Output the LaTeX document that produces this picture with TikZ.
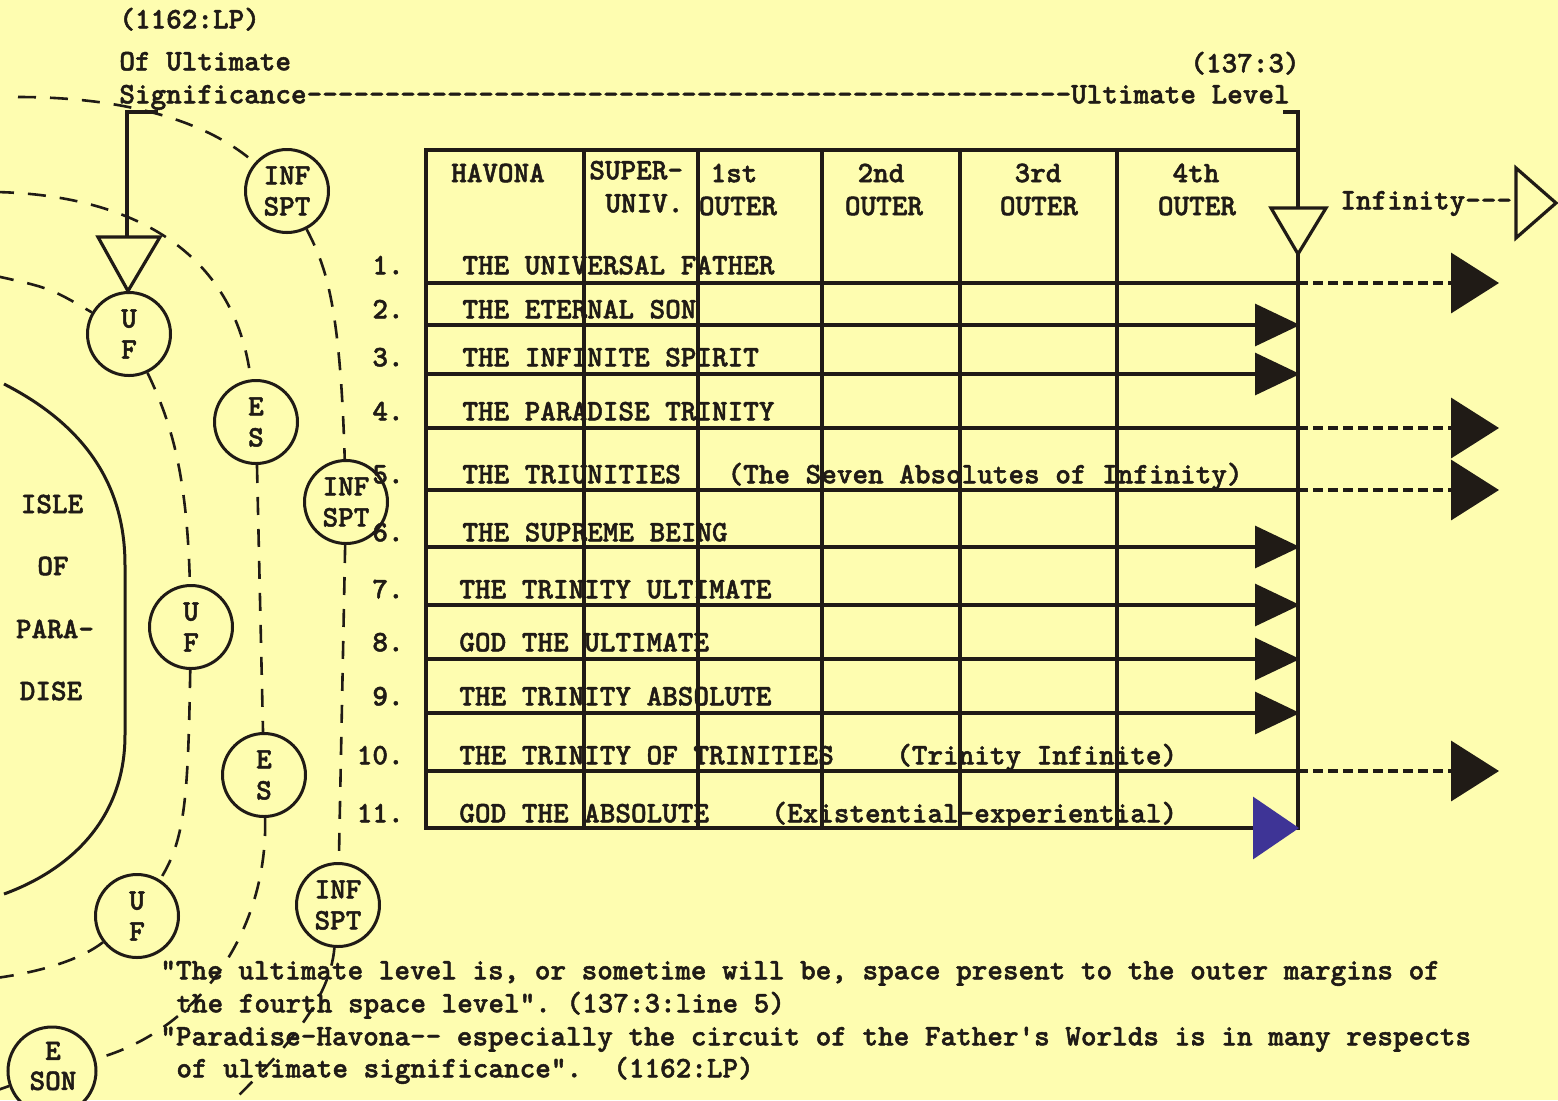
\documentclass[tikz,border=0pt]{standalone}
\usepackage{fontspec}
\setmonofont{lmmonolt10-bold}[Extension=.otf, FakeBold=1.6]
\usetikzlibrary{arrows.meta}
\definecolor{paper}{RGB}{254,253,176}
\definecolor{ink}{RGB}{32,27,22}
\definecolor{blueink}{RGB}{62,52,150}
\begin{document}
\begin{tikzpicture}[x=0.5pt,y=-0.5pt,
  tw/.style={font=\ttfamily\fontsize{14.86}{16}\selectfont, text=ink, inner sep=0pt},
  lbl/.style={tw, anchor=mid west},
  num/.style={tw, anchor=mid east},
  planet/.style={tw, circle, draw=ink, line width=1.5pt, fill=paper, minimum size=41.5pt, align=center, font=\ttfamily\fontsize{14.86}{15.5}\selectfont},
  orbit/.style={draw=ink, line width=1.3pt, dash pattern=on 9pt off 7pt},
  rule/.style={draw=ink, line width=1.6pt},
  ext/.style={draw=ink, line width=1.8pt, dash pattern=on 5pt off 2.5pt},
  tipin/.style={-{Triangle[length=22.5pt,width=21pt]}},
  tipout/.style={-{Triangle[length=24pt,width=30pt]}},
  level/.style={draw=ink, line width=1.6pt, fill=paper, line join=miter},
]
\useasboundingbox (0,0) rectangle (1558,1100);
\fill[paper] (0,0) rectangle (1558,1100);
\clip (0,0) rectangle (1558,1100);

% Isle of Paradise
\draw[ink, line width=1.5pt] (4,384) .. controls (90,428) and (125,490) .. (125,565) -- (125,735) .. controls (125,815) and (75,868) .. (4,894);
\node[tw] (isle1) at (52,504) {ISLE};
\node[tw] (isle2) at (53,566) {OF};
\node[tw] (isle3) at (55,629) {PARA-};
\node[tw] (isle4) at (51,691) {DISE};

% circuits (planets)
\node[planet] (inf1) at (287,191) {INF\\SPT};
\node[planet] (uf1) at (129,334) {U\\F};
\node[planet] (es1) at (256,422) {E\\S};
\node[planet] (inf2) at (346,502) {INF\\SPT};
\node[planet] (uf2) at (191,627) {U\\F};
\node[planet] (es2) at (264,775) {E\\S};
\node[planet] (uf3) at (137,916) {U\\F};
\node[planet] (inf3) at (338,905) {INF\\SPT};
\node[planet, minimum size=44pt] (eson) at (52,1071) {};
\node[tw, align=center, font=\ttfamily\fontsize{14.86}{15}\selectfont] (esonlbl) at (53,1066) {E\\SON};

\coordinate (a0) at (-4,276);
\coordinate (a1) at (-4,978);
\coordinate (b0) at (-4,192);
\coordinate (b1) at (-8,1092);
\coordinate (c0) at (18,97);
\coordinate (c1) at (230,1104);

\draw[orbit] (a0) .. controls (50,288) .. (uf1);
\draw[orbit] (uf1) .. controls (170,420) and (187,470) .. (uf2);
\draw[orbit] (uf2) .. controls (188,800) and (185,840) .. (uf3);
\draw[orbit] (uf3) .. controls (80,960) and (40,972) .. (a1);

\draw[orbit] (b0) .. controls (130,195) and (235,250) .. (es1);
\draw[orbit] (es1) -- (es2);
\draw[orbit] (es2) .. controls (268,930) and (200,1030) .. (eson);
\draw[orbit] (eson) -- (b1);

\draw[orbit] (c0) .. controls (110,97) and (200,115) .. (inf1);
\draw[orbit] (inf1) .. controls (325,265) and (340,300) .. (inf2);
\draw[orbit] (inf2) -- (inf3);
\draw[orbit] (inf3) .. controls (330,1000) and (285,1050) .. (c1);

% top texts
\node[lbl] (ref1) at (119,24) {(1162:LP)};
\node[lbl] (ofu) at (119,66) {Of Ultimate};
\node[lbl] (sig) at (119,99) {Significance-------------------------------------------------Ultimate Level};
\node[num] (ref2) at (1300,68) {(137:3)};
\node[lbl] (infy) at (1340,205) {Infinity---};

% connectors to the level markers
\draw[rule] (158,112) -- (127,112) -- (127,237);
\draw[level] (98,237) -- (160,237) -- (128,291) -- cycle;

% table
\draw[rule] (1283,112) -- (1298,112) -- (1298,150);
\draw[rule] (426,150) rectangle (1298,828);
\foreach \x in {584,698,822,960,1117} \draw[rule] (\x,150) -- (\x,828);

% headers
\node[tw] (h1) at (498,173) {HAVONA};
\node[lbl] (h2a) at (589,175) {SUPER-};
\node[lbl] (h2b) at (605,208) {UNIV.};
\node[tw] (h3a) at (734,173) {1st};
\node[tw] (h3b) at (738,206) {OUTER};
\node[tw] (h4a) at (881,173) {2nd};
\node[tw] (h4b) at (884,206) {OUTER};
\node[tw] (h5a) at (1038,173) {3rd};
\node[tw] (h5b) at (1039,206) {OUTER};
\node[tw] (h6a) at (1196,173) {4th};
\node[tw] (h6b) at (1197,206) {OUTER};

% row numbers
\foreach \n/\y in {1/270,2/314,3/362,4/416,5/479,6/537,7/594,8/647,9/701,10/760,11/818}
  \node[num] (n\n) at (404,\y) {\n.};

% row labels
\node[lbl] (r1) at (462,270) {THE UNIVERSAL FATHER};
\node[lbl] (r2) at (462,314) {THE ETERNAL SON};
\node[lbl] (r3) at (462,362) {THE INFINITE SPIRIT};
\node[lbl] (r4) at (462,416) {THE PARADISE TRINITY};
\node[lbl] (r5) at (462,479) {THE TRIUNITIES\ \ \ (The Seven Absolutes of Infinity)};
\node[lbl] (r6) at (462,537) {THE SUPREME BEING};
\node[lbl] (r7) at (459,594) {THE TRINITY ULTIMATE};
\node[lbl] (r8) at (459,647) {GOD THE ULTIMATE};
\node[lbl] (r9) at (459,701) {THE TRINITY ABSOLUTE};
\node[lbl] (r10) at (459,760) {THE TRINITY OF TRINITIES\ \ \ \ (Trinity Infinite)};
\node[lbl] (r11) at (459,818) {GOD THE ABSOLUTE\ \ \ \ (Existential-experiential)};

% row lines with arrows
\foreach \y in {325,374,547,605,659,713}
  \draw[rule, tipin] (426,\y) -- (1300,\y);
\foreach \y in {283,428,490,771} {
  \draw[rule] (426,\y) -- (1298,\y);
  \draw[ext, tipout] (1298,\y) -- (1499,\y);
}
\draw[rule, -{Triangle[length=23pt,width=31pt,color=blueink]}] (1200,828) -- (1299,828);

% ultimate level marker on the right
\draw[level] (1271,208) -- (1326,208) -- (1298,254) -- cycle;
% infinity marker
\draw[level] (1516,168) -- (1516,238) -- (1556,203) -- cycle;

% quotations
\node[lbl] (q1) at (160,975) {"The ultimate level is, or sometime will be, space present to the outer margins of};
\node[lbl] (q2) at (176,1008) {the fourth space level". (137:3:line 5)};
\node[lbl] (q3) at (160,1041) {"Paradise-Havona-- especially the circuit of the Father's Worlds is in many respects};
\node[lbl] (q4) at (176,1073) {of ultimate significance".\ \ (1162:LP)};
\end{tikzpicture}
\end{document}
